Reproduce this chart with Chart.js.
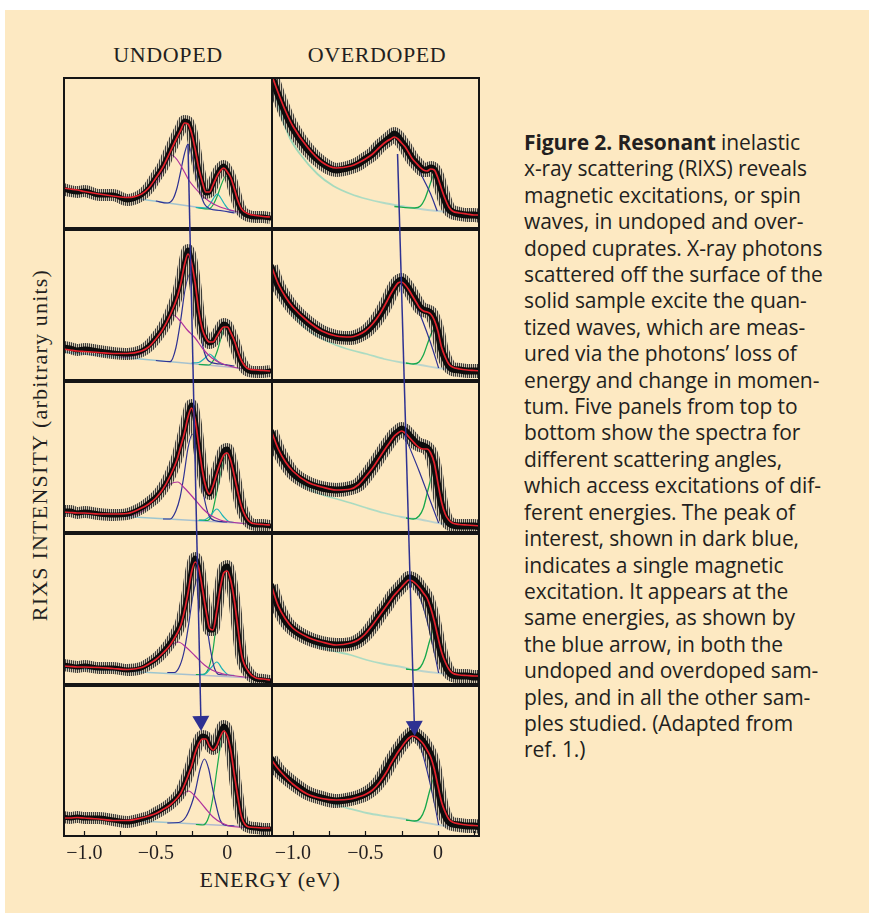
<!DOCTYPE html>
<html lang="en">
<head>
<meta charset="UTF-8">
<title>RIXS spectra, undoped vs overdoped</title>
<script src="https://cdn.jsdelivr.net/npm/chart.js@4.4.1/dist/chart.umd.min.js"></script>
<style>
  body { margin:0; width:869px; height:913px; position:relative; overflow:hidden; background:#fff; }
  #sheet { position:absolute; left:5px; top:10px; width:864px; height:903px; background:#fde9c2; }
  .panel { position:absolute; }
  .panel canvas { display:block; }
  .serif { position:absolute; font-family:'Liberation Serif','DejaVu Serif',serif; color:#231f20; white-space:nowrap; text-align:center; font-size:22px; line-height:26px; letter-spacing:0.6px; }
  #caption { position:absolute; left:524px; top:129px; font-family:'Open Sans',sans-serif; font-size:21px; letter-spacing:-0.1px; line-height:26.4px; color:#231f20; white-space:nowrap; }
  #arrows { position:absolute; left:0; top:0; pointer-events:none; }
</style>
</head>
<body>
<div id="sheet"></div>
<div class="serif" style="left:68px; top:42px; width:200px;">UNDOPED</div>
<div class="serif" style="left:277px; top:42px; width:200px;">OVERDOPED</div>
<div class="serif" style="left:-210px; top:432px; width:500px; letter-spacing:1.2px; transform:rotate(-90deg);">RIXS INTENSITY (arbitrary units)</div>
<div class="serif" style="left:170px; top:867px; width:200px;">ENERGY (eV)</div>
<div id="caption"><b>Figure 2. Resonant</b> inelastic<br>x-ray scattering (RIXS) reveals<br>magnetic excitations, or spin<br>waves, in undoped and over-<br>doped cuprates. X-ray photons<br>scattered off the surface of the<br>solid sample excite the quan-<br>tized waves, which are meas-<br>ured via the photons’ loss of<br>energy and change in momen-<br>tum. Five panels from top to<br>bottom show the spectra for<br>different scattering angles,<br>which access excitations of dif-<br>ferent energies. The peak of<br>interest, shown in dark blue,<br>indicates a single magnetic<br>excitation. It appears at the<br>same energies, as shown by<br>the blue arrow, in both the<br>undoped and overdoped sam-<br>ples, and in all the other sam-<br>ples studied. (Adapted from<br>ref. 1.)</div>
<canvas id="arrows" width="869" height="913"></canvas>

<script>
// energy grid (eV) shared by measured spectra and total fits
const energy = [-1.15,-1.1,-1.05,-1.0,-0.9,-0.8,-0.7,-0.6,-0.55,-0.5,-0.45,-0.4,-0.35,-0.325,-0.3,-0.275,-0.25,-0.225,-0.2,-0.175,-0.15,-0.125,-0.1,-0.075,-0.05,-0.025,0,0.025,0.05,0.075,0.1,0.15,0.2,0.25,0.3];
const tickValues = [-1.0,-0.75,-0.5,-0.25,0,0.25];
const tickText = ['−1.0','','−0.5','','0',''];

// ---- undoped column, one row per panel (top to bottom) ----
const undopedData = [
  [40,38,37,38,34,34,29,34,41,52,63,79,94,101,108,107,97,79,60,46,36,37,45,54,60,63,58,50,38,26,18,13,12,12,11],
  [34,33,31,32,30,28,27,30,35,43,53,67,86,100,118,131,120,97,68,51,42,38,40,46,52,57,55,47,38,27,18,10,9,9,10],
  [22,22,20,21,19,18,19,25,30,36,45,58,76,89,102,118,128,114,88,62,45,39,48,61,72,82,84,74,58,40,25,11,8,8,7],
  [20,19,18,19,17,17,15,17,21,26,33,42,54,62,76,94,116,127,118,96,73,55,55,74,98,116,119,106,84,54,28,12,6,5,4],
  [20,19,20,19,19,17,15,18,20,24,28,33,40,45,53,63,73,86,96,101,100,92,88,93,104,111,106,88,62,38,19,10,9,8,8]
];
const undopedFit = [
  [41,40,39,37.5,35,33,31.5,35,41,51,62,77,92,99,106,105,96,80,61,47,37,37,44,52,58,61,57,51,40,28,20,15,13.5,12.5,12],
  [32,31,30,29.5,28.5,27.5,27.5,30,34,42,52,66,84,98,116,127,118,98,70,52,43,39,39,44,50,54,54,48,40,29,20,12,11,10.5,10],
  [21,20.5,20,20,19,19,19.5,25,29,35,44,57,74,87,100,116,125,113,88,63,46,39,47,59,70,78,80,72,57,40,26,12,9,8.5,8],
  [19,18.5,18,18,17.5,16.5,15.5,17.5,21,25.5,32,40,52,60,74,92,113,123,117,97,75,57,55,73,96,112,114,104,84,56,30,13,7,6,5],
  [19,19,19.5,19,18,16.5,16.5,19,21,23.5,27.5,32,39,44,52,61,71,84,93,98,98,91,87,91,100,106,101,86,62,39,20,10,9.5,9,9]
];
const undopedBackground = [
  [[-1.15,41],[0.32,11]],
  [[-1.15,29],[0.32,10]],
  [[-1.15,20],[0.32,8]],
  [[-1.15,17],[0.32,6]],
  [[-1.15,20],[0.32,9]]
];
const undopedMagenta = [
  [[-0.75,32.5],[-0.65,31.5],[-0.58,35],[-0.5,46],[-0.45,58],[-0.42,67],[-0.39,74],[-0.35,69],[-0.3,57],[-0.27,49],[-0.2,37],[-0.13,28],[-0.05,22],[0.05,18],[0.15,15],[0.32,11]],
  [[-0.75,24],[-0.65,25],[-0.58,29],[-0.53,37],[-0.47,50],[-0.42,61],[-0.378,66],[-0.33,60],[-0.28,51],[-0.225,43],[-0.17,32],[-0.108,23],[-0.03,17],[0.054,13.5],[0.15,11.5],[0.32,10]],
  [[-0.75,16.5],[-0.65,18],[-0.58,23],[-0.51,33],[-0.45,43],[-0.4,49],[-0.347,51],[-0.3,45],[-0.23,34],[-0.17,24],[-0.12,18],[-0.05,13],[0.02,11],[0.15,9],[0.32,8]],
  [[-0.75,14],[-0.65,15],[-0.57,18],[-0.49,26],[-0.42,36],[-0.343,43],[-0.29,38],[-0.225,29],[-0.16,20],[-0.108,15],[-0.04,11.5],[0.01,10],[0.15,7.5],[0.32,6]],
  [[-0.75,17],[-0.6,18.5],[-0.5,22],[-0.42,29],[-0.36,37],[-0.31,43],[-0.272,46],[-0.22,40],[-0.155,29],[-0.1,20],[-0.038,14],[0.033,10.5],[0.15,9.5],[0.32,9]]
];
const undopedBlue = [
  [[-0.5,28],[-0.42,26],[-0.38,30],[-0.35,42],[-0.33,55],[-0.3,75],[-0.275,85],[-0.25,75],[-0.22,55],[-0.19,37],[-0.16,25],[-0.12,20],[-0.05,18.5],[0.05,16]],
  [[-0.5,20.5],[-0.4,19.3],[-0.36,33],[-0.325,62],[-0.295,92],[-0.261,107],[-0.23,92],[-0.2,62],[-0.17,34],[-0.13,20],[-0.05,17],[0.05,15]],
  [[-0.45,14],[-0.4,14],[-0.36,22],[-0.33,36],[-0.305,56],[-0.275,85],[-0.245,99],[-0.215,85],[-0.185,56],[-0.16,34],[-0.13,18],[-0.09,12.5],[0,11]],
  [[-0.42,12.5],[-0.37,12.5],[-0.33,20],[-0.3,35],[-0.272,59],[-0.24,90],[-0.207,107],[-0.175,90],[-0.143,59],[-0.115,33],[-0.09,17],[-0.06,10.5],[0,10]],
  [[-0.42,14],[-0.34,14.5],[-0.29,20],[-0.25,33],[-0.225,45],[-0.19,68],[-0.16,78],[-0.13,68],[-0.108,52],[-0.08,33],[-0.05,17],[-0.02,12],[0.05,11]]
];
const undopedCyan = [
  [[-0.22,21.5],[-0.15,21],[-0.12,25],[-0.09,32],[-0.07,35],[-0.05,32],[-0.02,25],[0.01,19.5],[0.05,17.5]],
  [[-0.25,18],[-0.2,18.5],[-0.16,22.5],[-0.124,27],[-0.09,23],[-0.05,17.5],[0,16]],
  [[-0.2,12.5],[-0.16,13],[-0.12,17],[-0.073,24],[-0.03,17],[0.01,11.5],[0.05,10.5]],
  [[-0.2,10.5],[-0.155,11],[-0.115,17],[-0.073,23],[-0.035,16],[0.01,10],[0.05,9.5]],
  []
];
const undopedGreen = [
  [[-0.22,21.5],[-0.13,20],[-0.1,24],[-0.07,33],[-0.04,45],[-0.01,53],[0.02,47],[0.05,33],[0.08,21],[0.12,16],[0.2,13.5]],
  [[-0.2,16.5],[-0.13,16],[-0.1,20],[-0.07,30],[-0.04,45],[-0.009,55],[0.02,50],[0.05,38],[0.08,22],[0.11,13],[0.2,11]],
  [[-0.2,13],[-0.14,12.5],[-0.11,18],[-0.075,40],[-0.04,64],[-0.004,79],[0.03,68],[0.06,48],[0.09,27],[0.12,15],[0.16,10],[0.25,8.5]],
  [[-0.22,10.5],[-0.17,10.5],[-0.13,17],[-0.1,35],[-0.07,70],[-0.04,100],[-0.007,115],[0.025,104],[0.05,84],[0.075,56],[0.1,29],[0.125,15],[0.16,9],[0.25,6.5]],
  [[-0.22,12.5],[-0.17,12],[-0.13,20],[-0.1,40],[-0.07,70],[-0.045,94],[-0.021,106],[0.005,98],[0.03,80],[0.055,57],[0.08,33],[0.105,17],[0.14,10.5],[0.25,9]]
];

// ---- overdoped column ----
const overdopedData = [
  [155,134,116,101,80,66,59,62,65,70,75,83,89,92,95,92,87,82,76,70,66,62,59,59,61,59,51,39,28,20,17,15,14,14,13],
  [114,95,83,73,59,49,44,43,45,49,56,66,79,87,94,99,101,97,92,86,80,74,71,70,68,61,49,32,22,15,12,11,10,10,10],
  [101,83,70,60,50,45,43,45,48,56,66,77,88,93,98,101,104,102,98,94,90,88,87,85,80,68,47,28,16,10,8,7,7,7,6],
  [99,78,64,56,47,42,40,41,44,50,59,70,80,86,91,95,99,103,107,106,103,98,93,87,76,62,45,30,20,13,10,9,9,8,8],
  [78,67,60,54,44,39,36,38,40,43,48,56,68,75,81,87,92,97,101,104,102,99,95,89,82,70,50,32,21,15,13,12,11,11,10]
];
const overdopedFit = [
  [156,136,118,103,82,67,61,63,66,70,75,82,88,90,92,90,86,82,76,70,66,62,59,58,60,59,51,40,30,22,18,16,15,14,14],
  [116,97,84,74,60,50,45,44,46,50,57,67,80,87,93,98,99,96,91,85,79,73,70,69,67,61,50,34,24,17,14,12,11,10.5,10],
  [103,84,71,62,51,46,43,44,48,56,65,76,87,92,97,100,102,100,96,92,88,85,84,84,80,70,50,31,19,13,10,8.5,8,7.5,7],
  [101,79,66,57,48,43,40,42,45,51,60,70,80,85,90,94,98,102,105,104,101,97,92,87,77,64,48,33,23,16,12,10,9.5,9,9],
  [78,68,60,53,43,38.5,37,38,40,42.5,47,55,66,73,79,85,90,95,99,101,100,97,93,87,80,68,51,35,25,18,15,13,12,11.5,11]
];
const overdopedBackground = [
  [[-1.15,155],[-1.09,118],[-1.02,91],[-0.95,75],[-0.83,55],[-0.72,43],[-0.6,35],[-0.49,30],[-0.37,26],[-0.25,23],[-0.12,20],[0,18],[0.15,16],[0.29,15]],
  [[-1.15,116],[-1.09,88],[-1.02,72],[-0.95,58],[-0.83,45],[-0.72,37],[-0.6,31],[-0.49,27],[-0.37,22],[-0.25,18.5],[-0.12,16],[0,13],[0.15,11],[0.29,10]],
  [[-1.15,101],[-1.09,77],[-1.02,60],[-0.95,50],[-0.83,40],[-0.72,35],[-0.6,30],[-0.49,25],[-0.37,20],[-0.25,16],[-0.12,13.5],[0,10],[0.15,8],[0.29,7]],
  [[-1.15,96],[-1.09,74],[-1.02,59],[-0.95,50],[-0.83,39],[-0.72,34],[-0.6,30],[-0.49,25],[-0.37,21],[-0.25,18],[-0.16,15],[0,12],[0.15,10],[0.29,9]],
  [[-1.15,75],[-1.09,66],[-1.02,58],[-0.95,49],[-0.83,39],[-0.72,33],[-0.6,28],[-0.49,24],[-0.37,21],[-0.25,18.5],[-0.16,16],[0,12],[0.15,10],[0.29,9]]
];
const overdopedBlue = [
  [[-0.2,77],[-0.139,62],[-0.1,50],[-0.05,35],[-0.005,18]],
  [[-0.2,90],[-0.139,72],[-0.1,58],[-0.05,38],[0.005,13]],
  [[-0.24,101],[-0.208,90],[-0.127,61],[-0.06,35],[0.005,10]],
  [[-0.19,104],[-0.162,101],[-0.125,88],[-0.093,74],[-0.046,47],[0.005,12]],
  [[-0.167,101],[-0.127,93],[-0.069,63],[-0.023,33],[0.005,12]]
];
const overdopedGreen = [
  [[-0.3,22.5],[-0.16,21],[-0.12,23],[-0.09,30],[-0.06,42],[-0.023,55],[0.01,47],[0.04,32],[0.08,19],[0.15,16.5]],
  [[-0.22,18],[-0.17,17],[-0.13,19],[-0.1,26],[-0.065,40],[-0.03,51],[0,45],[0.03,30],[0.06,17],[0.1,12.5]],
  [[-0.22,15],[-0.17,14],[-0.13,17],[-0.1,25],[-0.065,45],[-0.03,61],[0,52],[0.03,30],[0.06,14],[0.1,9.5]],
  [[-0.22,16],[-0.16,15],[-0.12,18],[-0.09,27],[-0.055,45],[-0.023,57],[0.01,46],[0.04,27],[0.07,14],[0.116,10.5]],
  [[-0.22,17],[-0.16,16],[-0.12,19],[-0.09,28],[-0.055,47],[-0.023,60],[0.01,50],[0.04,30],[0.07,16],[0.1,12.5]]
];

// arrow from the magnetic peak in the top panel to the bottom panel [start, end]
const arrowEnergy = [[-0.275,-0.183],[-0.278,-0.16]];
const arrowLevel = [[85,106],[75,101]];

const RED = '#e3202b', NAVY = '#2e3192', MAGENTA = '#b0329c', CYAN = '#1bb3b8', GREEN = '#17a84b';
const xMax = [0.32, 0.29];

function pts(pairs) { return pairs.map(p => ({x: p[0], y: p[1]})); }
function onGrid(vals) { return energy.map((e, i) => ({x: e, y: vals[i]})); }
function line(data, color, width, order, extra) {
  return Object.assign({data: data, borderColor: color, borderWidth: width, pointRadius: 0,
    fill: false, cubicInterpolationMode: 'monotone', order: order}, extra || {});
}
function gradient(stops) {
  return function(c) {
    const a = c.chart.chartArea;
    if (!a) return stops[0];
    const g = c.chart.ctx.createLinearGradient(a.left, 0, a.right, 0);
    stops.forEach((s, i) => g.addColorStop(i / (stops.length - 1), s));
    return g;
  };
}

// frame around each panel + inward ticks on the bottom row
const framePlugin = {
  id: 'frame',
  afterDraw(chart, args, opts) {
    const ctx = chart.ctx, a = chart.chartArea;
    ctx.save();
    ctx.strokeStyle = '#151515';
    ctx.lineWidth = 2;
    ctx.strokeRect(a.left + 1, a.top + 1, a.right - a.left - 2, a.bottom - a.top - 2);
    if (opts.ticks) {
      ctx.lineWidth = 1.2;
      ctx.beginPath();
      tickValues.forEach(v => {
        const x = Math.round(chart.scales.x.getPixelForValue(v)) + 0.5;
        ctx.moveTo(x, a.bottom - 2);
        ctx.lineTo(x, a.bottom - 6);
      });
      ctx.stroke();
    }
    ctx.restore();
  }
};

const charts = [[], []];

function makePanel(col, row) {
  const bottom = row === 4;
  const w = col === 0 ? 210 : 209;
  const h = 152 + (bottom ? 30 : 0);
  const div = document.createElement('div');
  div.className = 'panel';
  div.style.left = (col === 0 ? 63 : 271) + 'px';
  div.style.top = (77 + 152 * row) + 'px';
  const cv = document.createElement('canvas');
  cv.width = w; cv.height = h;
  div.appendChild(cv);
  document.body.insertBefore(div, document.getElementById('arrows'));

  // error bars: vertical stripe pattern stroked as a wide band
  const sc = document.createElement('canvas');
  sc.width = 2; sc.height = 1;
  const sg = sc.getContext('2d');
  sg.fillStyle = 'rgba(150,150,150,0.4)'; sg.fillRect(0, 0, 2, 1);
  sg.fillStyle = 'rgba(25,25,25,0.8)'; sg.fillRect(0, 0, 1, 1);
  const errPattern = cv.getContext('2d').createPattern(sc, 'repeat');

  const meas = col === 0 ? undopedData[row] : overdopedData[row];
  const fit = col === 0 ? undopedFit[row] : overdopedFit[row];
  const core = col === 0 ? 5 : 7;
  const err = col === 0 ? 12 : 14;

  const datasets = [
    line(onGrid(fit), RED, 1.7, 0),
    line(onGrid(meas), '#0d0d0d', core, 1, {borderJoinStyle: 'round', borderCapStyle: 'round'}),
    line(onGrid(meas), errPattern, err, 2)
  ];
  if (col === 0) {
    datasets.push(line(pts(undopedMagenta[row]), MAGENTA, 1.2, 3));
    datasets.push(line(pts(undopedBlue[row]), NAVY, 1.2, 3));
    if (undopedCyan[row].length) datasets.push(line(pts(undopedCyan[row]), CYAN, 1.2, 3));
    datasets.push(line(pts(undopedGreen[row]), GREEN, 1.2, 3));
    datasets.push(line(pts(undopedBackground[row]), gradient(['#86c2cc', '#9fc6d0', '#c7a9c9']), 1.6, 4));
  } else {
    datasets.push(line(pts(overdopedBlue[row]), NAVY, 1.2, 3));
    datasets.push(line(pts(overdopedGreen[row]), GREEN, 1.3, 3));
    datasets.push(line(pts(overdopedBackground[row]), gradient(['#98d6b2', '#afdcc4', '#c9cbd6']), 1.8, 4));
  }

  const xScale = {
    type: 'linear', min: -1.15, max: xMax[col], display: bottom,
    grid: {display: false, drawTicks: false},
    border: {display: false},
    afterBuildTicks: s => { s.ticks = tickValues.map(v => ({value: v})); },
    ticks: {
      autoSkip: false, maxRotation: 0, minRotation: 0, padding: 5,
      color: '#231f20', font: {family: 'Liberation Serif', size: 20},
      callback: (v, i) => tickText[i]
    }
  };
  if (bottom) xScale.afterFit = s => { s.height = 30; s.paddingLeft = 0; s.paddingRight = 0; };

  const chart = new Chart(cv, {
    type: 'line',
    data: {datasets: datasets},
    options: {
      responsive: false,
      animation: false,
      events: [],
      layout: {padding: 0},
      plugins: {legend: {display: false}, tooltip: {enabled: false}, frame: {ticks: bottom}},
      scales: {
        x: xScale,
        y: {type: 'linear', min: 0, max: 152, display: false}
      }
    },
    plugins: [framePlugin]
  });
  charts[col][row] = chart;
}

for (let c = 0; c < 2; c++) for (let r = 0; r < 5; r++) makePanel(c, r);

// blue arrows across the five panels, placed through each chart's scales
function pageXY(chart, e, v) {
  const box = chart.canvas.parentNode;
  return {x: box.offsetLeft + chart.scales.x.getPixelForValue(e),
          y: box.offsetTop + chart.scales.y.getPixelForValue(v)};
}
const actx = document.getElementById('arrows').getContext('2d');
for (let c = 0; c < 2; c++) {
  const p0 = pageXY(charts[c][0], arrowEnergy[c][0], arrowLevel[c][0]);
  const p1 = pageXY(charts[c][4], arrowEnergy[c][1], arrowLevel[c][1]);
  const dx = p1.x - p0.x, dy = p1.y - p0.y, len = Math.hypot(dx, dy);
  const ux = dx / len, uy = dy / len;
  const headL = 15, headW = 8.5;
  const bx = p1.x - ux * headL, by = p1.y - uy * headL;
  actx.strokeStyle = NAVY;
  actx.lineWidth = 1.5;
  actx.beginPath();
  actx.moveTo(p0.x, p0.y);
  actx.lineTo(bx, by);
  actx.stroke();
  actx.fillStyle = NAVY;
  actx.beginPath();
  actx.moveTo(p1.x, p1.y);
  actx.lineTo(bx - uy * headW, by + ux * headW);
  actx.lineTo(bx + uy * headW, by - ux * headW);
  actx.closePath();
  actx.fill();
}
</script>
</body>
</html>
